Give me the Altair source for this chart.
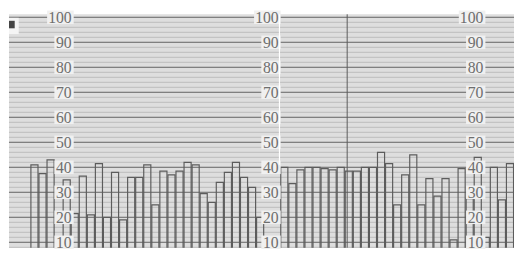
import altair as alt
import pandas as pd

# bar heights per slot (None = empty slot used by the printed scale column)
bar_values = [41, 37.5, 43, None, 35, 21.5, 36.5, 21, 41.5, 20, 38, 19, 36, 36, 41,
              25, 38.5, 37, 38.5, 42, 41, 29.5, 26, 34, 38, 42, 36, 32, 20,
              None, None,
              40, 33.5, 39, 40, 40, 39.5, 39, 40, 38.5, 38.5, 40, 40, 46, 41.5,
              25, 37, 45, 25, 35.5, 28.5, 35.5, 11, 39.5, 27.5, 44, 12, 40, 27, 41.5]

tick_values = [100, 90, 80, 70, 60, 50, 40, 30, 20, 10]
label_columns = [4.62, 30.3, 55.7]      # slot where each scale column ends
minor_grid = list(range(8, 101, 2))
major_grid = tick_values
dark_vlines = [38.8]
light_vlines = [30.4]

# small corner marker (slot / value extents)
icon_box = {"x0": -3.16, "x1": -1.95, "y0": 93.3, "y1": 99.8}
icon_mark = {"x0": -3.16, "x1": -2.45, "y0": 95.6, "y1": 98.6}

X_DOMAIN = [-3.16, 59.5]
Y_DOMAIN = [7.84, 101.2]

bars = pd.DataFrame({"slot": list(range(len(bar_values))), "v": bar_values}).dropna()

labels = pd.DataFrame(
    [{"col": c, "v": t, "txt": str(t)} for c in label_columns for t in tick_values]
)
labels["x_lo"] = labels["col"] - (labels["txt"].str.len() * 0.9 + 0.35)
labels["x_hi"] = labels["col"] + 0.25
labels["y_lo"] = labels["v"] - 2.7
labels["y_hi"] = labels["v"] + 2.7

xs = alt.Scale(domain=X_DOMAIN, nice=False, zero=False)
ys = alt.Scale(domain=Y_DOMAIN, nice=False, zero=False)

minor = alt.Chart(pd.DataFrame({"v": minor_grid})).mark_rule(
    color="#bcbcbc", strokeWidth=1
).encode(y=alt.Y("v:Q", scale=ys, axis=None))

major = alt.Chart(pd.DataFrame({"v": major_grid})).mark_rule(
    color="#808080", strokeWidth=1.3
).encode(y=alt.Y("v:Q", scale=ys, axis=None))

bar_layer = alt.Chart(bars).transform_calculate(
    x0="datum.slot - 0.44", x1="datum.slot + 0.44", base="0"
).mark_rect(
    fillOpacity=0, stroke="#5c5c5c", strokeWidth=1.2, clip=True
).encode(
    x=alt.X("x0:Q", scale=xs, axis=None),
    x2="x1:Q",
    y=alt.Y("v:Q", scale=ys, axis=None),
    y2="base:Q",
)

boxes = alt.Chart(labels).mark_rect(color="#f0f0f0").encode(
    x=alt.X("x_lo:Q", scale=xs, axis=None),
    x2="x_hi:Q",
    y=alt.Y("y_lo:Q", scale=ys, axis=None),
    y2="y_hi:Q",
)

texts = alt.Chart(labels).mark_text(
    align="right", baseline="middle", font="Liberation Sans Narrow",
    fontSize=16, color="#6e6e6e", dy=1
).encode(
    x=alt.X("col:Q", scale=xs, axis=None),
    y=alt.Y("v:Q", scale=ys, axis=None),
    text="txt:N",
)

dark_v = alt.Chart(pd.DataFrame({"x": dark_vlines})).mark_rule(
    color="#5a5a5a", strokeWidth=1
).encode(x=alt.X("x:Q", scale=xs, axis=None))

light_v = alt.Chart(pd.DataFrame({"x": light_vlines, "y0": [41], "y1": [101.2]})).mark_rule(
    color="#ffffff", strokeWidth=1.2
).encode(
    x=alt.X("x:Q", scale=xs, axis=None),
    y=alt.Y("y0:Q", scale=ys, axis=None),
    y2="y1:Q",
)

icon_df = pd.DataFrame([dict(icon_box, c="#f4f4f4"), dict(icon_mark, c="#444444")])
icon = alt.Chart(icon_df).mark_rect().encode(
    x=alt.X("x0:Q", scale=xs, axis=None),
    x2="x1:Q",
    y=alt.Y("y0:Q", scale=ys, axis=None),
    y2="y1:Q",
    color=alt.Color("c:N", scale=None),
)

chart = alt.layer(minor, major, bar_layer, boxes, texts, light_v, dark_v, icon).properties(
    width=515, height=238, padding=0
).configure_view(strokeWidth=0, fill="#dedede")

chart.save("out.html", embed_options={"renderer": "svg", "actions": False})
